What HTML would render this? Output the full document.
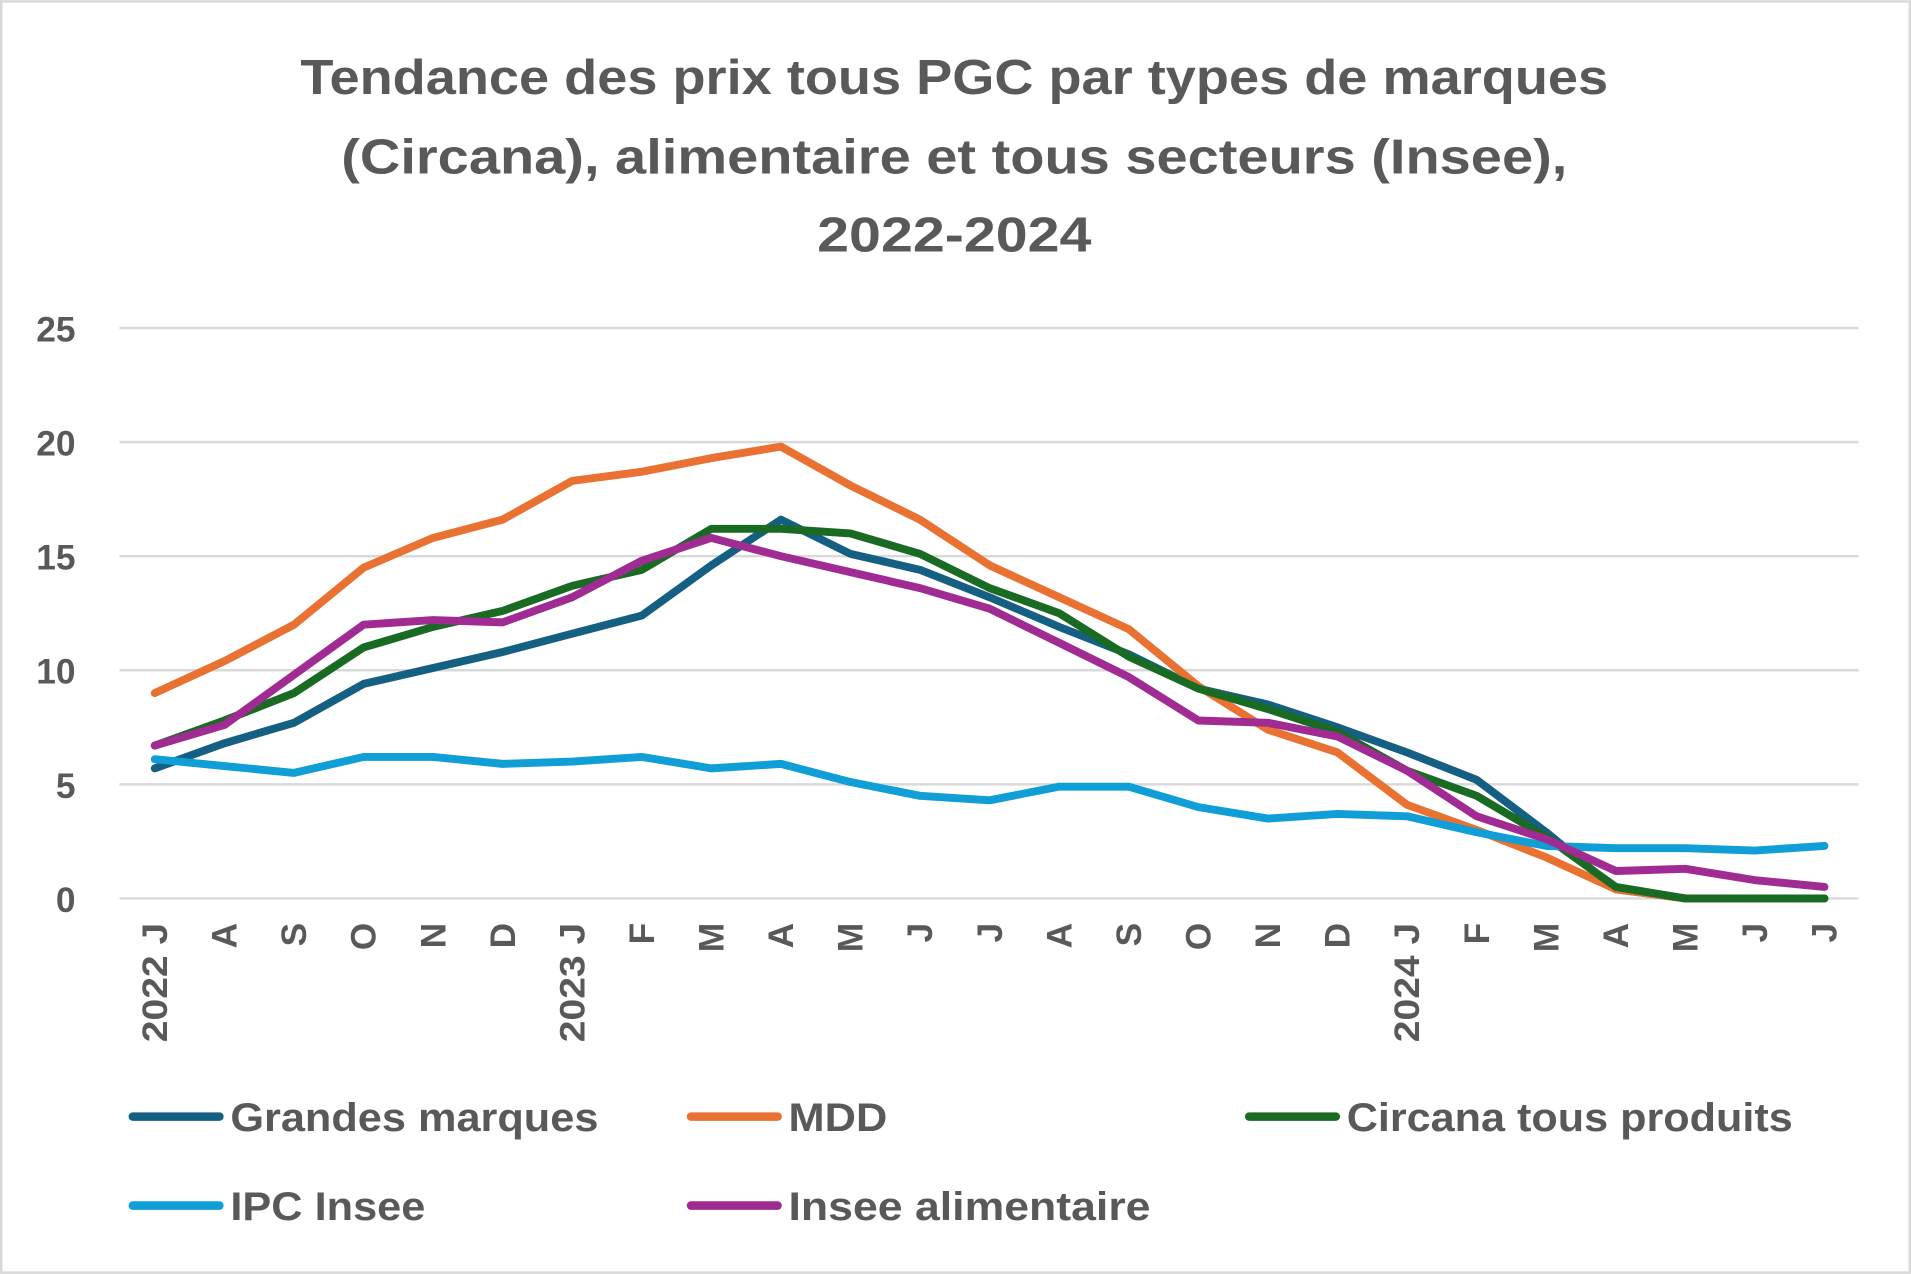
<!DOCTYPE html>
<html><head><meta charset="utf-8"><style>
html,body{margin:0;padding:0;background:#fff;}
svg{display:block;}
text{font-family:"Liberation Sans",sans-serif;font-weight:bold;fill:#595959;}
</style></head><body>
<svg id="s" width="1911" height="1274" viewBox="0 0 1568 1045" xmlns="http://www.w3.org/2000/svg">
<rect x="1" y="1" width="1566" height="1043" fill="#fff" stroke="#d9d9d9" stroke-width="2"/>
<text x="783" y="77" font-size="40" text-anchor="middle" textLength="1073" lengthAdjust="spacingAndGlyphs">Tendance des prix tous PGC par types de marques</text>
<text x="783" y="142" font-size="40" text-anchor="middle" textLength="1006" lengthAdjust="spacingAndGlyphs">(Circana), alimentaire et tous secteurs (Insee),</text>
<text x="783" y="206" font-size="40" text-anchor="middle" textLength="225" lengthAdjust="spacingAndGlyphs">2022-2024</text>
<g id="grid" stroke="#d9d9d9" stroke-width="2"></g>
<g id="ylab" font-size="29" text-anchor="end"></g>
<g id="xlab" font-size="29"></g>
<g id="lines" fill="none" stroke-width="6.5" stroke-linejoin="round" stroke-linecap="round"></g>
<g stroke-width="7" stroke-linecap="round">
<line x1="109" y1="916" x2="180" y2="916" stroke="#156082"/>
<line x1="567" y1="916" x2="638" y2="916" stroke="#E97132"/>
<line x1="1025" y1="916" x2="1096" y2="916" stroke="#196B24"/>
<line x1="109" y1="989" x2="180" y2="989" stroke="#0F9ED5"/>
<line x1="567" y1="989" x2="638" y2="989" stroke="#A02B93"/>
</g>
<g font-size="33">
<text x="189" y="928" textLength="302" lengthAdjust="spacingAndGlyphs">Grandes marques</text>
<text x="647" y="928" textLength="81" lengthAdjust="spacingAndGlyphs">MDD</text>
<text x="1105" y="928" textLength="366" lengthAdjust="spacingAndGlyphs">Circana tous produits</text>
<text x="189" y="1001" textLength="160" lengthAdjust="spacingAndGlyphs">IPC Insee</text>
<text x="647" y="1001" textLength="297" lengthAdjust="spacingAndGlyphs">Insee alimentaire</text>
</g>
</svg>
<script>
var NS="http://www.w3.org/2000/svg";
function el(p,t,a,txt){var e=document.createElementNS(NS,t);for(var k in a)e.setAttribute(k,a[k]);if(txt!=null)e.textContent=txt;document.getElementById(p).appendChild(e);}
var x0=127,dx=(1497-127)/24,y0=737,ky=(737-269)/25;
for(var v=0;v<=25;v+=5){var y=y0-v*ky;el("grid","line",{x1:98,x2:1525,y1:y,y2:y});el("ylab","text",{x:62,y:y+11},String(v));}
var labs=["2022 J","A","S","O","N","D","2023 J","F","M","A","M","J","J","A","S","O","N","D","2024 J","F","M","A","M","J","J"];
labs.forEach(function(l,i){var x=x0+i*dx+10;var a={x:0,y:0,transform:"translate("+x+",757) rotate(-90)","text-anchor":"end"};if(l.length>1){a.textLength=98;a.lengthAdjust="spacingAndGlyphs";}el("xlab","text",a,l);});
var S=[
["#156082",[5.7,6.8,7.7,9.4,10.1,10.8,11.6,12.4,14.6,16.6,15.1,14.4,13.2,11.9,10.7,9.2,8.5,7.5,6.4,5.2,2.9,0.4,0,0,0]],
["#E97132",[9.0,10.4,12.0,14.5,15.8,16.6,18.3,18.7,19.3,19.8,18.1,16.6,14.6,13.2,11.8,9.3,7.4,6.4,4.1,3.0,1.8,0.4,0,0,0]],
["#196B24",[6.7,7.8,9.0,11.0,11.9,12.6,13.7,14.4,16.2,16.2,16.0,15.1,13.6,12.5,10.6,9.2,8.3,7.3,5.6,4.5,2.7,0.5,0,0,0]],
["#0F9ED5",[6.1,5.8,5.5,6.2,6.2,5.9,6.0,6.2,5.7,5.9,5.1,4.5,4.3,4.9,4.9,4.0,3.5,3.7,3.6,2.9,2.3,2.2,2.2,2.1,2.3]],
["#A02B93",[6.7,7.6,9.8,12.0,12.2,12.1,13.2,14.8,15.8,15.0,14.3,13.6,12.7,11.2,9.7,7.8,7.7,7.1,5.6,3.6,2.6,1.2,1.3,0.8,0.5]]];
S.forEach(function(s){var p=s[1].map(function(v,i){return (x0+i*dx).toFixed(1)+","+(y0-v*ky).toFixed(1);}).join(" ");el("lines","polyline",{points:p,stroke:s[0]});});
</script>
</body></html>
